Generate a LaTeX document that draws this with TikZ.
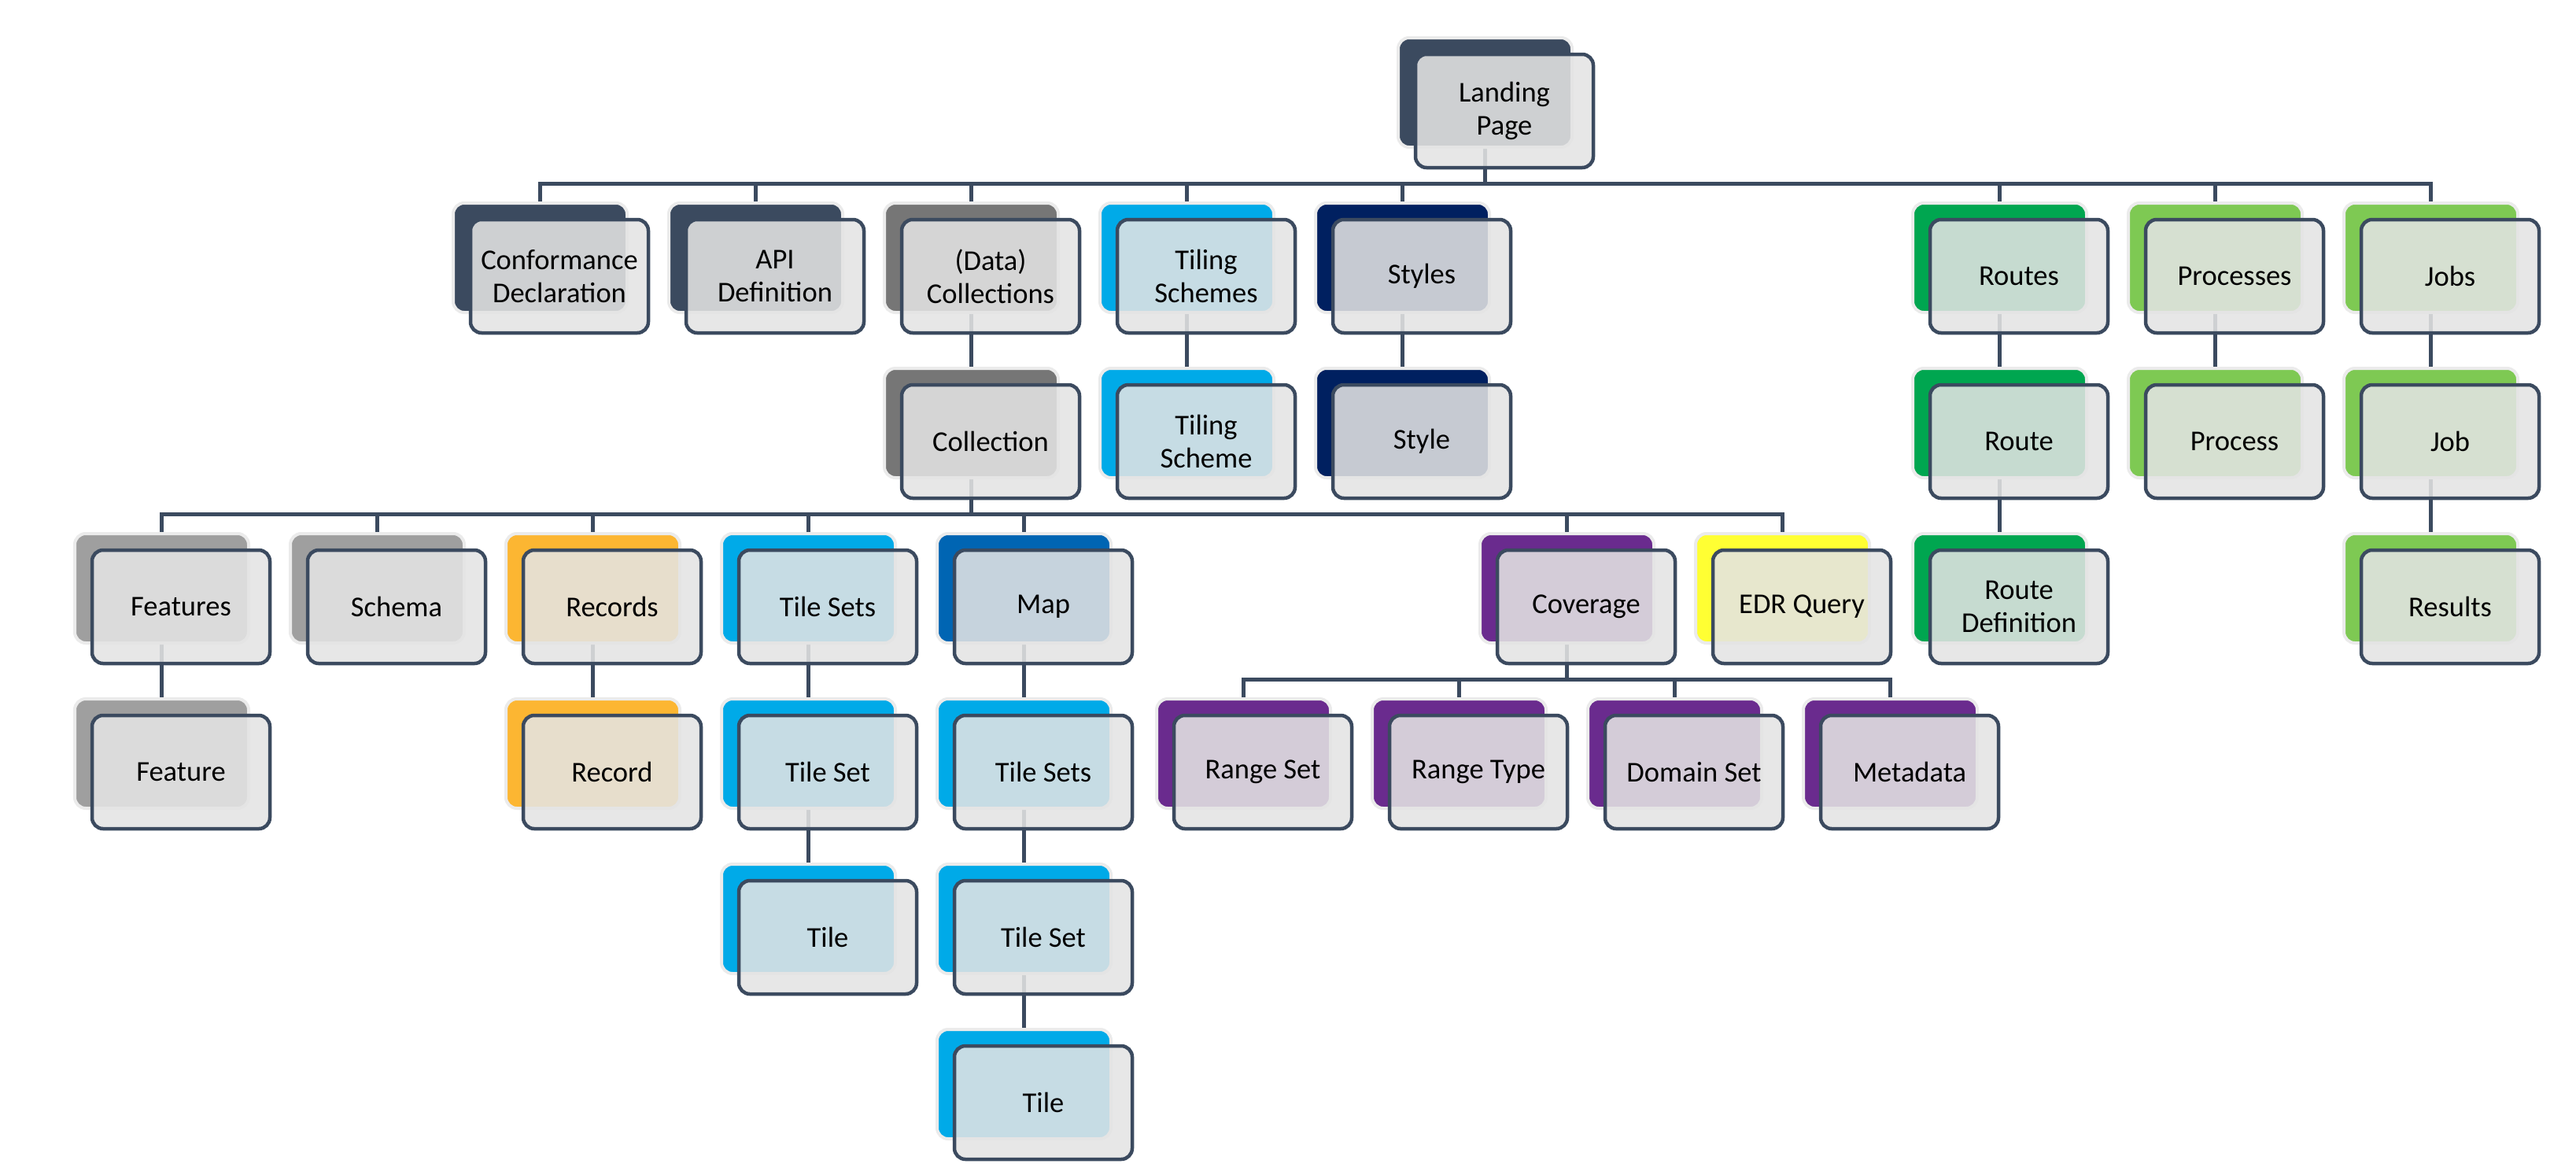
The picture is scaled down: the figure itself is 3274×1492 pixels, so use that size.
\documentclass[tikz,border=0pt]{standalone}
\usepackage{fontspec}
\setmainfont{Carlito}
\usetikzlibrary{calc}
\pgfdeclarelayer{bg}
\pgfsetlayers{bg,main}
\definecolor{slate}{HTML}{3B4A5F}
\definecolor{navy}{HTML}{3B4A5F}
\definecolor{grayA}{HTML}{767676}
\definecolor{grayB}{HTML}{9F9F9F}
\definecolor{cyanA}{HTML}{00AAE8}
\definecolor{dblue}{HTML}{002060}
\definecolor{greenA}{HTML}{00A650}
\definecolor{lgreen}{HTML}{7EC953}
\definecolor{orangeA}{HTML}{FCB632}
\definecolor{mapblue}{HTML}{0065B3}
\definecolor{purpleA}{HTML}{6A2B8E}
\definecolor{yellowA}{HTML}{FFFF33}
\definecolor{glow}{HTML}{EBEBEB}
\definecolor{frontfill}{HTML}{E4E4E4}
\tikzset{
  backbox/.style={rectangle, rounded corners=14pt, minimum width=221pt, minimum height=139pt,
    inner sep=0pt, outer sep=0pt, draw=glow, line width=4pt},
  frontbox/.style={rectangle, rounded corners=14pt, minimum width=226pt, minimum height=144pt,
    inner sep=0pt, outer sep=0pt, draw=slate, line width=4.5pt, fill=frontfill, fill opacity=0.87,
    draw opacity=1, text opacity=1, align=center, font=\fontsize{36.5}{41.7}\selectfont},
  conn/.style={draw=slate, line width=5pt},
}
\newcommand\tb[5]{%
  \node[backbox, fill=#4] (#1) at ({#2+110.5},{#3+69.5}) {};
  \node[frontbox] (#1f) at ({#2+135},{#3+93}) {#5};
}
\begin{document}
\begin{tikzpicture}[x=1pt,y=-1pt]
\useasboundingbox (0,0) rectangle (3274,1492);
\begin{pgfonlayer}{bg}
\fill[white] (0,0) rectangle (3274,1492);
\end{pgfonlayer}

\tb{lp}{1777}{48}{navy}{Landing\\Page}
\tb{conf}{576}{258}{navy}{Conformance\\Declaration}
\tb{api}{850}{258}{navy}{API\\Definition}
\tb{dcol}{1124}{258}{grayA}{(Data)\\Collections}
\tb{tss}{1398}{258}{cyanA}{Tiling\\Schemes}
\tb{sts}{1672}{258}{dblue}{Styles}
\tb{rts}{2431}{258}{greenA}{Routes}
\tb{prs}{2705}{258}{lgreen}{Processes}
\tb{jbs}{2979}{258}{lgreen}{Jobs}
\tb{col}{1124}{468}{grayA}{Collection}
\tb{tsc}{1398}{468}{cyanA}{Tiling\\Scheme}
\tb{sty}{1672}{468}{dblue}{Style}
\tb{rt}{2431}{468}{greenA}{Route}
\tb{pr}{2705}{468}{lgreen}{Process}
\tb{jb}{2979}{468}{lgreen}{Job}
\tb{fts}{95}{678}{grayB}{Features}
\tb{sch}{369}{678}{grayB}{Schema}
\tb{recs}{643}{678}{orangeA}{Records}
\tb{tlss}{917}{678}{cyanA}{Tile Sets}
\tb{map}{1191}{678}{mapblue}{Map}
\tb{cov}{1881}{678}{purpleA}{Coverage}
\tb{edr}{2155}{678}{yellowA}{EDR Query}
\tb{rtd}{2431}{678}{greenA}{Route\\Definition}
\tb{res}{2979}{678}{lgreen}{Results}
\tb{ft}{95}{888}{grayB}{Feature}
\tb{rec}{643}{888}{orangeA}{Record}
\tb{tls}{917}{888}{cyanA}{Tile Set}
\tb{mtlss}{1191}{888}{cyanA}{Tile Sets}
\tb{rs}{1470}{888}{purpleA}{Range Set}
\tb{rty}{1744}{888}{purpleA}{Range Type}
\tb{ds}{2018}{888}{purpleA}{Domain Set}
\tb{md}{2292}{888}{purpleA}{Metadata}
\tb{tl}{917}{1098}{cyanA}{Tile}
\tb{mtls}{1191}{1098}{cyanA}{Tile Set}
\tb{mtl}{1191}{1308}{cyanA}{Tile}

\begin{pgfonlayer}{bg}
% Landing page bus
\draw[conn] (lp.south) -- (lp.south |- 0,233);
\draw[conn] (conf.north) -- (conf.north |- 0,233) -| (jbs.north);
\foreach \c in {api,dcol,tss,sts,rts,prs} \draw[conn] (\c.north) -- (\c.north |- 0,233);
% Collection bus
\draw[conn] (col.south) -- (col.south |- 0,653);
\draw[conn] (fts.north) -- (fts.north |- 0,653) -| (edr.north);
\foreach \c in {sch,recs,tlss,map,cov} \draw[conn] (\c.north) -- (\c.north |- 0,653);
% Coverage bus
\draw[conn] (cov.south) -- (cov.south |- 0,863);
\draw[conn] (rs.north) -- (rs.north |- 0,863) -| (md.north);
\foreach \c in {rty,ds} \draw[conn] (\c.north) -- (\c.north |- 0,863);
% single chains
\draw[conn] (dcol.south) -- (col.north);
\draw[conn] (tss.south) -- (tsc.north);
\draw[conn] (sts.south) -- (sty.north);
\draw[conn] (rts.south) -- (rt.north);
\draw[conn] (rt.south) -- (rtd.north);
\draw[conn] (prs.south) -- (pr.north);
\draw[conn] (jbs.south) -- (jb.north);
\draw[conn] (jb.south) -- (res.north);
\draw[conn] (fts.south) -- (ft.north);
\draw[conn] (recs.south) -- (rec.north);
\draw[conn] (tlss.south) -- (tls.north);
\draw[conn] (tls.south) -- (tl.north);
\draw[conn] (map.south) -- (mtlss.north);
\draw[conn] (mtlss.south) -- (mtls.north);
\draw[conn] (mtls.south) -- (mtl.north);
\end{pgfonlayer}
\end{tikzpicture}
\end{document}
